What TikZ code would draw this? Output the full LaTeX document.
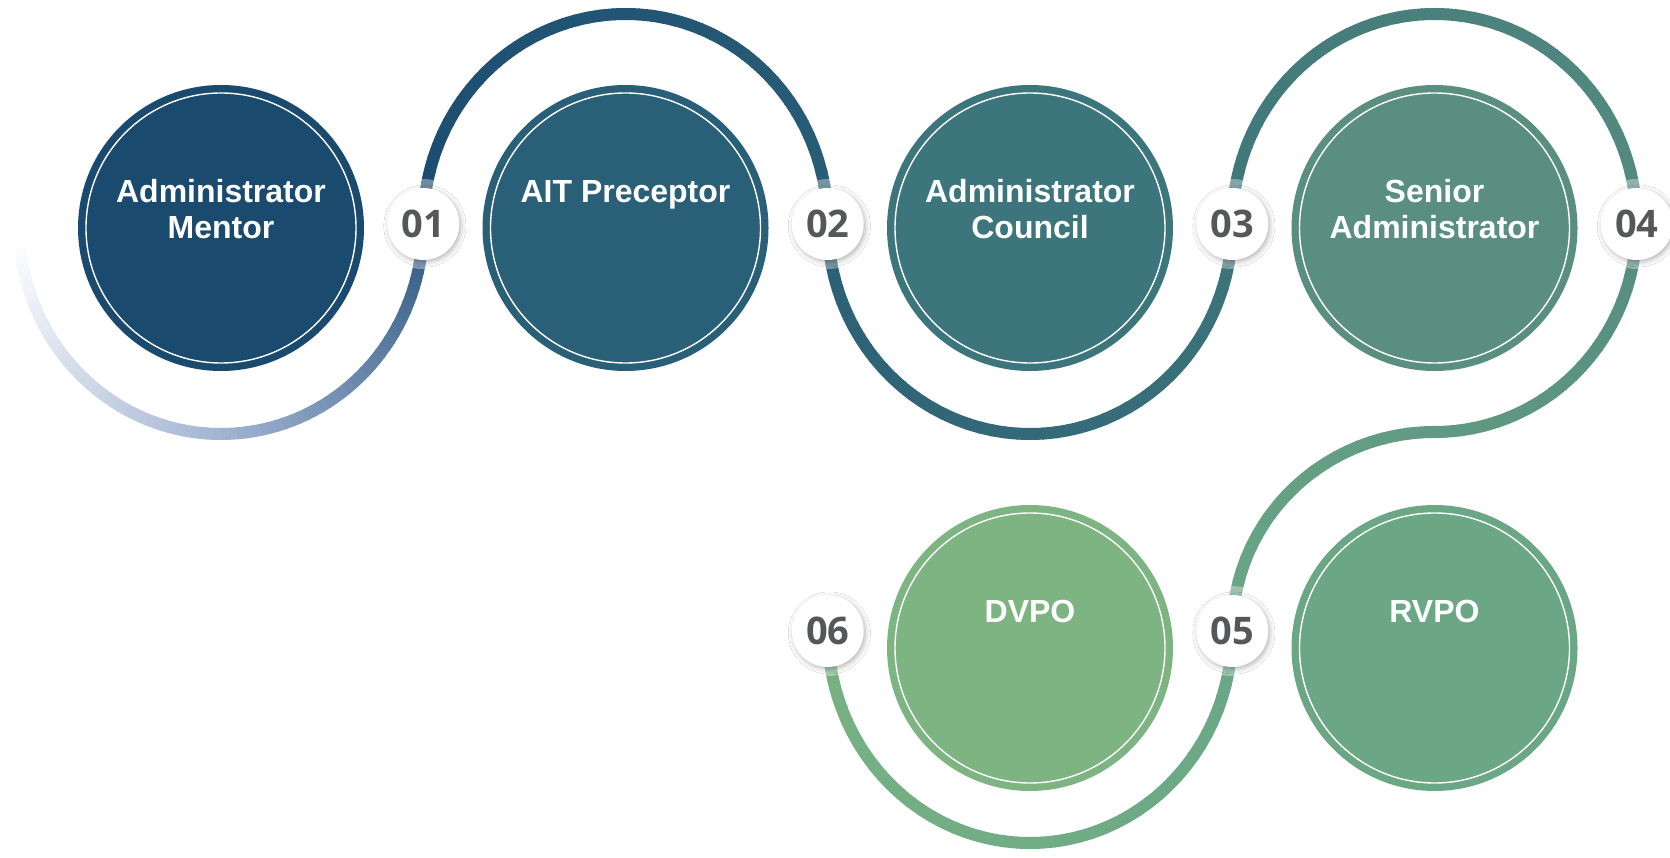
\documentclass[tikz,border=0pt]{standalone}
\usepackage{fontspec}
\setmainfont{Liberation Sans}
\newfontfamily\badgefont{Open Sans}
\usetikzlibrary{shadows.blur}
\definecolor{cA}{HTML}{1A4A6E}
\definecolor{cB}{HTML}{2A5F78}
\definecolor{cC}{HTML}{3C767C}
\definecolor{cD}{HTML}{5A8F80}
\definecolor{cE}{HTML}{7DB482}
\definecolor{cF}{HTML}{6BA785}
\definecolor{numgray}{HTML}{555759}
\definecolor{pM}{HTML}{A3B4D2}
\definecolor{pA}{HTML}{2B5781}
\definecolor{pB}{HTML}{1B4C70}
\definecolor{pC}{HTML}{2A5E76}
\definecolor{pD}{HTML}{3E7579}
\definecolor{pE}{HTML}{558C80}
\definecolor{pF}{HTML}{619A83}
\definecolor{pG}{HTML}{69A686}
\definecolor{pH}{HTML}{78B283}
\tikzset{
  bigc/.style={circle, minimum size=143pt, inner sep=0pt, draw=none},
  lbl/.style={anchor=base, text=white, inner sep=0pt, font=\fontsize{16}{18}\selectfont\bfseries},
  badge/.style={circle, fill=white, minimum size=36pt, inner sep=0pt, text=numgray,
    font=\badgefont\fontsize{19}{21}\selectfont\bfseries,
    blur shadow={shadow xshift=0.8pt, shadow yshift=-1pt, shadow blur radius=2.5pt, shadow opacity=30}},
  halo/.style={fill=white, fill opacity=0.35, draw=none},
  pathline/.style={line width=6pt, line cap=butt},
  ring/.style={draw=white, line width=0.7pt},
}
% center x, center y, start, end, colA, colB, steps, x radius, y radius
\newcommand{\garc}[9]{%
  \foreach \k in {1,...,#7}{%
    \pgfmathsetmacro{\angA}{#3+(#4-#3)*(\k-1)/#7}%
    \pgfmathsetmacro{\angB}{#3+(#4-#3)*\k/#7+sign(#4-#3)*0.4}%
    \pgfmathsetmacro{\pcx}{100*(\k-0.5)/#7}%
    \draw[pathline, draw=#6!\pcx!#5] ([shift={(#1,#2)}]\angA:#8 and #9) arc[start angle=\angA, end angle=\angB, x radius=#8, y radius=#9];
  }%
}
\begin{document}
\begin{tikzpicture}[x=0.5pt,y=0.5pt]
\useasboundingbox (0,0) rectangle (1670,857);
% snake path
\garc{221}{633}{184.4}{270}{white}{pM}{40}{202.25}{210}
\garc{221}{633}{270}{360}{pM}{pA}{40}{202.25}{210}
\garc{625.5}{633}{180}{0}{pB}{pC}{50}{202.25}{210}
\garc{1030}{633}{180}{360}{pC}{pD}{50}{202.25}{210}
\garc{1434.5}{633}{180}{0}{pD}{pE}{50}{202.25}{210}
\garc{1434.5}{633}{0}{-90}{pE}{pF}{25}{202.25}{208}
\garc{1434.5}{226}{90}{180}{pF}{pG}{25}{202.25}{199}
\garc{1030}{226}{0}{-180}{pG}{pH}{50}{202.25}{212}
% halos
\foreach \hx/\hy in {423.25/633, 827.75/633, 1232.25/633, 1636.75/633, 1232.25/226, 827.75/226}
  \fill[halo] (\hx,\hy) circle[radius=45];
% circles
\node[bigc, fill=cA] (c1) at (221,629) {};
\node[bigc, fill=cB] (c2) at (625.5,629) {};
\node[bigc, fill=cC] (c3) at (1030,629) {};
\node[bigc, fill=cD] (c4) at (1434.5,629) {};
\node[bigc, fill=cF] (c5) at (1434.5,209) {};
\node[bigc, fill=cE] (c6) at (1030,209) {};
\foreach \c in {c1,c2,c3,c4,c5,c6}
  \draw[ring] (\c.center) circle[radius=135];
% labels
\node[lbl] (t1a) at (221,654) {Administrator};
\node[lbl] (t1b) at (221,618) {Mentor};
\node[lbl] (t2a) at (625.5,654) {AIT Preceptor};
\node[lbl] (t3a) at (1030,654) {Administrator};
\node[lbl] (t3b) at (1030,618) {Council};
\node[lbl] (t4a) at (1434.5,654) {Senior};
\node[lbl] (t4b) at (1434.5,618) {Administrator};
\node[lbl] (t5a) at (1434.5,234) {RVPO};
\node[lbl] (t6a) at (1030,234) {DVPO};
% badges
\node[badge] (b1) at (423.25,633) {01};
\node[badge] (b2) at (827.75,633) {02};
\node[badge] (b3) at (1232.25,633) {03};
\node[badge] (b4) at (1636.75,633) {04};
\node[badge] (b5) at (1232.25,226) {05};
\node[badge] (b6) at (827.75,226) {06};
\end{tikzpicture}
\end{document}
